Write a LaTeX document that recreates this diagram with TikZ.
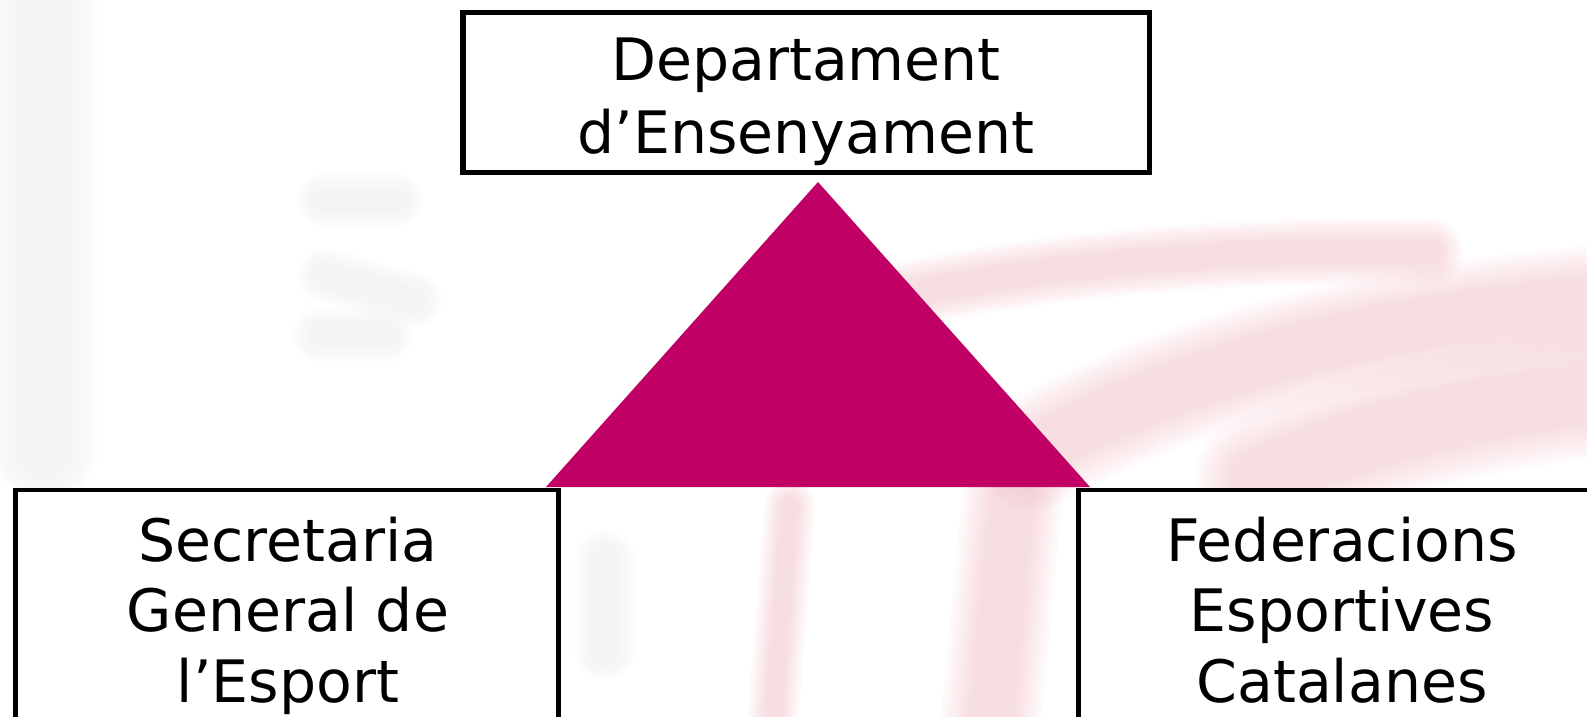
\documentclass[tikz,border=0pt]{standalone}
\usepackage{fontspec}
\setmainfont{DejaVu Sans}
\definecolor{tri}{RGB}{192,0,100}
\definecolor{wpink}{RGB}{242,190,200}
\definecolor{wgray}{RGB}{226,226,226}
\begin{document}
\begin{tikzpicture}[x=1pt,y=-1pt,
  boxtop/.style={draw=black,fill=white,line width=5.5pt,minimum width=686.5pt,minimum height=159.5pt,inner sep=0pt},
  boxbot/.style={draw=black,fill=white,line width=4.6pt,inner sep=0pt},
  lbl/.style={anchor=base,inner sep=0pt,font=\fontsize{58.5}{70}\selectfont},
  softp/.style={line cap=round,line join=round,opacity=0.075,wpink},
  softg/.style={line cap=round,line join=round,opacity=0.045,wgray}]
\useasboundingbox (0,0) rectangle (1587,717);
\fill[white] (0,0) rectangle (1587,717);
% faint watermark (blurred background)
\foreach \k in {0,1,...,7} {
  \draw[softp,line width=24pt+6pt*\k] (880,300) .. controls (1050,262) and (1250,248) .. (1430,252);
  \draw[softp,line width=50pt+9pt*\k] (1030,455) .. controls (1160,380) and (1350,320) .. (1620,300);
  \draw[softp,line width=60pt+10pt*\k] (1260,480) .. controls (1350,440) and (1460,405) .. (1620,390);
  \draw[softp,line width=16pt+5pt*\k] (772,730) -- (790,505);
  \draw[softp,line width=44pt+8pt*\k] (990,730) -- (1012,500);
  \draw[softg,line width=50pt+8pt*\k] (45,10) -- (45,450);
  \draw[softg,line width=20pt+5pt*\k] (325,200) -- (395,200);
  \draw[softg,line width=20pt+5pt*\k] (325,275) -- (415,300);
  \draw[softg,line width=20pt+5pt*\k] (320,335) -- (385,335);
  \draw[softg,line width=25pt+5pt*\k] (605,560) -- (605,650);
}
% triangle
\coordinate (apex) at (818,182);
\coordinate (bl) at (546,487);
\coordinate (br) at (1090,487);
\fill[tri] (apex) -- (br) -- (bl) -- cycle;
% boxes
\node[boxtop] (dep) at (806,92.5) {};
\node[lbl] (dep1) at (806,81) {Departament};
\node[lbl] (dep2) at (806,153) {d’Ensenyament};
\draw[boxbot] (15.3,489.8) rectangle (558.7,740);
\node[lbl] (sec1) at (288,561) {Secretaria};
\node[lbl] (sec2) at (288,631) {General de};
\node[lbl] (sec3) at (288,702) {l’Esport};
\draw[boxbot] (1078.5,489.8) rectangle (1610,740);
\node[lbl] (fed1) at (1342,561) {Federacions};
\node[lbl] (fed2) at (1342,631) {Esportives};
\node[lbl] (fed3) at (1342,702) {Catalanes};
\end{tikzpicture}
\end{document}
